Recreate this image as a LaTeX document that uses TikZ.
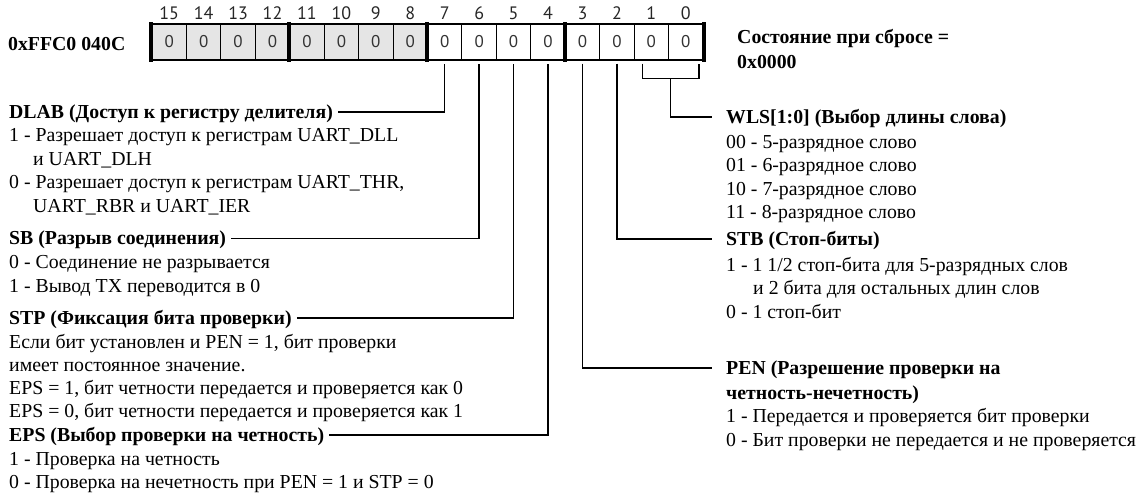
\documentclass[tikz,border=0pt]{standalone}
\usepackage{fontspec}
\setmainfont{Liberation Serif}
\newfontfamily\bitfont{PT Sans}
\usetikzlibrary{calc}
\begin{document}
\begin{tikzpicture}[x=1pt,y=-1pt]
\tikzset{
 cell/.style={draw=black, line width=1.1pt, minimum width=34.44pt, minimum height=36pt, inner sep=0pt, font=\bitfont\fontsize{17}{17}\selectfont, text=black!80},
 hicell/.style={cell, fill=black!10},
 locell/.style={cell, fill=white},
 bitnum/.style={font=\bitfont\fontsize{18}{18}\selectfont, inner sep=0pt, text=black!85},
 hdr/.style={font=\bfseries\fontsize{19.8}{23}\selectfont, inner sep=0pt, anchor=base west},
 body/.style={font=\fontsize{19.8}{23}\selectfont, inner sep=0pt, anchor=base west},
 conn/.style={line width=1.5pt},
 nib/.style={line width=4pt}
}
\useasboundingbox (0,0) rectangle (1139,501);
% register cells
\foreach \i in {15,...,0}{
  \pgfmathsetmacro\cx{152+(15-\i+0.5)*34.4375}
  \ifnum\i>7
    \node[hicell] (c\i) at (\cx,42) {0};
  \else
    \node[locell] (c\i) at (\cx,42) {0};
  \fi
  \node[bitnum] (n\i) at (\cx,13) {\i};
}
\foreach \i in {15,11,7,3}{
  \draw[nib] ([yshift=1pt]c\i.north west) -- ([yshift=-1pt]c\i.south west);
}
\draw[nib] ([yshift=1pt]c0.north east) -- ([yshift=-1pt]c0.south east);
\foreach \i in {7,...,0}{
  \coordinate (t\i) at ([yshift=-3pt]c\i.south);
}
% titles
\node[hdr] (addr) at (8,50) {0xFFC0 040C};
\node[hdr] (reset1) at (737,43) {Состояние при сбросе =};
\node[hdr] (reset2) at (737,68) {0x0000};
% left descriptions
\node[hdr] (dlab) at (9,118) {DLAB (Доступ к регистру делителя)};
\node[body] (dlab1) at (9,141.5) {1 - Разрешает доступ к регистрам UART\_DLL};
\node[body] (dlab2) at (33,165) {и UART\_DLH};
\node[body] (dlab3) at (9,188.5) {0 - Разрешает доступ к регистрам UART\_THR,};
\node[body] (dlab4) at (33,212) {UART\_RBR и UART\_IER};
\node[hdr] (sb) at (9,244.5) {SB (Разрыв соединения)};
\node[body] (sb1) at (9,268.5) {0 - Соединение не разрывается};
\node[body] (sb2) at (9,292) {1 - Вывод TX переводится в 0};
\node[hdr] (stp) at (9,324) {STP (Фиксация бита проверки)};
\node[body] (stp1) at (9,348) {Если бит установлен и PEN = 1, бит проверки};
\node[body] (stp2) at (9,371) {имеет постоянное значение.};
\node[body] (stp3) at (9,394) {EPS = 1, бит четности передается и проверяется как 0};
\node[body] (stp4) at (9,417) {EPS = 0, бит четности передается и проверяется как 1};
\node[hdr] (eps) at (9,441) {EPS (Выбор проверки на четность)};
\node[body] (eps1) at (9,465) {1 - Проверка на четность};
\node[body] (eps2) at (9,488) {0 - Проверка на нечетность при PEN = 1 и STP = 0};
% right descriptions
\node[hdr] (wls) at (726,123) {WLS[1:0] (Выбор длины слова)};
\node[body] (wls1) at (726,148) {00 - 5-разрядное слово};
\node[body] (wls2) at (726,171.5) {01 - 6-разрядное слово};
\node[body] (wls3) at (726,195) {10 - 7-разрядное слово};
\node[body] (wls4) at (726,218.5) {11 - 8-разрядное слово};
\node[hdr] (stb) at (726,245) {STB (Стоп-биты)};
\node[body] (stb1) at (726,271) {1 - 1 1/2 стоп-бита для 5-разрядных слов};
\node[body] (stb2) at (753,294.5) {и 2 бита для остальных длин слов};
\node[body] (stb3) at (726,318) {0 - 1 стоп-бит};
\node[hdr] (pen) at (726,374) {PEN (Разрешение проверки на};
\node[hdr] (pen2) at (726,399) {четность-нечетность)};
\node[body] (pen3) at (726,422.5) {1 - Передается и проверяется бит проверки};
\node[body] (pen4) at (726,446) {0 - Бит проверки не передается и не проверяется};
% connectors
\draw[conn] ([shift={(5pt,6pt)}]dlab.base east) -| (t7);
\draw[conn] ([shift={(5pt,6pt)}]sb.base east) -| (t6);
\draw[conn] ([shift={(5pt,6pt)}]stp.base east) -| (t5);
\draw[conn] ([shift={(5pt,6pt)}]eps.base east) -| (t4);
\draw[conn] (t3) |- ([shift={(-14pt,6pt)}]pen.base west);
\draw[conn] (t2) |- ([shift={(-14pt,6pt)}]stb.base west);
\coordinate (wa) at ([xshift=-9pt]t1);
\coordinate (wb) at ([xshift=13pt]t0);
\coordinate (wm) at ($(wa)!0.5!(wb)$);
\draw[conn] (wa) -- ([yshift=-15pt]wa) -| (wb);
\draw[conn] ([yshift=-15pt]wm) |- ([shift={(-14pt,6pt)}]wls.base west);
\end{tikzpicture}
\end{document}
